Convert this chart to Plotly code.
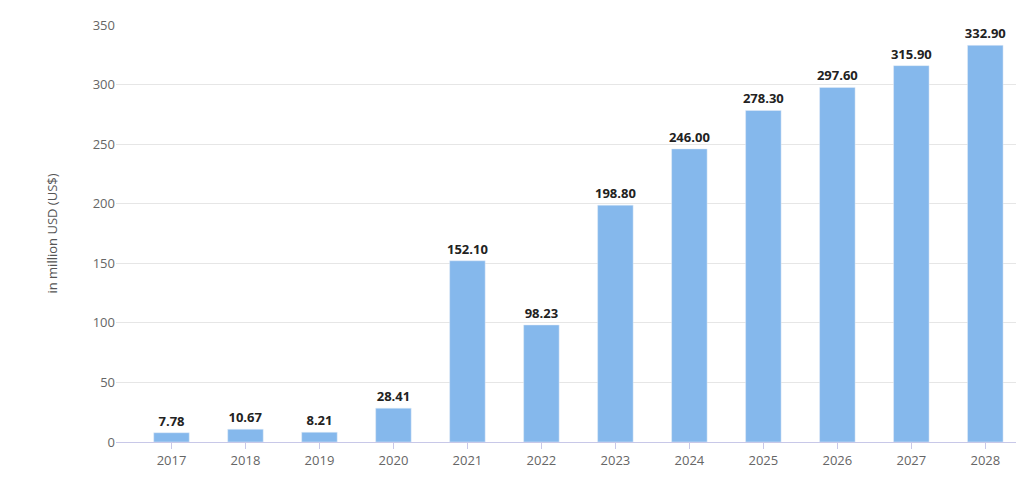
import plotly.graph_objects as go

years = ["2017", "2018", "2019", "2020", "2021", "2022", "2023", "2024", "2025", "2026", "2027", "2028"]
revenue = [7.78, 10.67, 8.21, 28.41, 152.10, 98.23, 198.80, 246.00, 278.30, 297.60, 315.90, 332.90]
labels = ["<b>%.2f</b>" % v for v in revenue]

fig = go.Figure(go.Bar(
    x=years, y=revenue, text=labels, textposition="outside",
    textfont=dict(size=13, color="#222222", family="Open Sans"),
    marker_color="#85b8ec", cliponaxis=False,
))
fig.update_layout(
    width=1024, height=494,
    paper_bgcolor="white", plot_bgcolor="white",
    margin=dict(l=108, r=6, t=17, b=60),
    bargap=0.52, showlegend=False,
    uniformtext=dict(minsize=13, mode="show"),
    font=dict(family="Open Sans", size=13, color="#666666"),
)
fig.update_xaxes(showline=True, linecolor="#c8c8e8", linewidth=1, ticks="outside",
                 tickcolor="#c8c8e8", ticklen=6, range=[-0.75, 11.55])
fig.update_yaxes(range=[0, 350], dtick=50, gridcolor="#e6e6e6", zeroline=False,
                 title_text="in million USD (US$)", title_font=dict(size=13, color="#555555"),
                 title_standoff=32)
fig.write_html("out.html")
